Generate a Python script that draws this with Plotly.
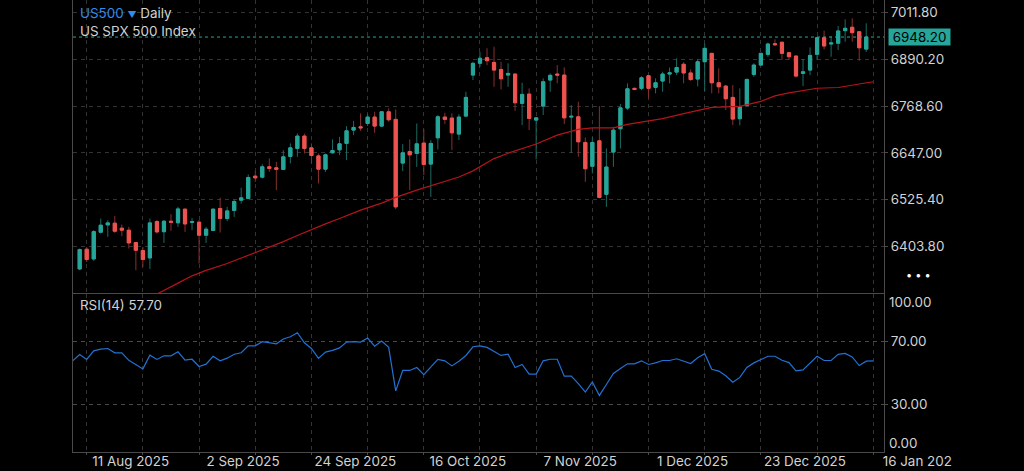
import pandas as pd
import plotly.graph_objects as go

# ---------------- data ----------------
closed_days = ["2025-12-25", "2026-01-01"]
dates = [d.strftime("%Y-%m-%d") for d in pd.bdate_range("2025-08-07", "2026-01-16")
         if d.strftime("%Y-%m-%d") not in closed_days]
candle_dates = dates[1:114]  # 8 Aug 2025 .. 15 Jan 2026

opens = [6344.9, 6396.2, 6371.0, 6440.5, 6459.5, 6464.0, 6450.9, 6445.7, 6413.6, 6392.8,
         6373.6, 6468.3, 6441.8, 6469.0, 6465.0, 6500.4, 6466.0, 6466.5, 6432.7, 6445.0,
         6502.2, 6476.0, 6497.0, 6523.8, 6528.3, 6586.3, 6583.7, 6610.6, 6608.0, 6603.8,
         6637.6, 6658.4, 6690.5, 6660.0, 6639.0, 6604.5, 6647.0, 6654.8, 6671.5, 6706.1,
         6714.7, 6723.5, 6740.0, 6716.5, 6753.8, 6734.0, 6620.2, 6650.6, 6645.4, 6672.3,
         6617.6, 6686.0, 6740.0, 6737.4, 6695.7, 6742.6, 6849.3, 6880.0, 6894.5, 6882.2,
         6864.0, 6849.3, 6851.9, 6775.6, 6799.8, 6732.1, 6768.6, 6836.3, 6851.9, 6849.3,
         6740.0, 6740.7, 6674.0, 6612.0, 6678.3, 6539.0, 6649.0, 6709.5, 6763.4, 6814.7,
         6814.7, 6847.5, 6817.3, 6833.7, 6851.9, 6857.0, 6877.4, 6854.8, 6838.9, 6884.0,
         6905.8, 6829.3, 6820.6, 6791.2, 6735.7, 6770.4, 6851.0, 6875.3, 6903.2, 6930.9,
         6934.7, 6907.5, 6898.8, 6853.6, 6862.3, 6903.2, 6946.5, 6930.1, 6932.2, 6964.8,
         6973.7, 6962.0, 6916.8]
highs = [6398.0, 6402.0, 6445.7, 6476.0, 6471.7, 6482.8, 6460.5, 6454.3, 6414.0, 6402.0,
         6476.0, 6472.0, 6472.0, 6487.4, 6506.4, 6502.0, 6477.6, 6471.7, 6454.3, 6502.0,
         6530.0, 6506.4, 6525.6, 6556.0, 6590.7, 6599.3, 6617.6, 6632.4, 6623.6, 6654.0,
         6671.5, 6697.5, 6697.0, 6671.5, 6645.4, 6645.0, 6681.9, 6688.7, 6716.5, 6730.3,
         6749.6, 6747.8, 6753.8, 6755.0, 6762.6, 6760.0, 6669.6, 6681.9, 6723.5, 6708.7,
         6680.0, 6745.2, 6751.2, 6749.6, 6747.8, 6805.8, 6884.0, 6910.0, 6919.0, 6923.0,
         6884.0, 6879.8, 6853.6, 6829.3, 6814.7, 6740.0, 6840.7, 6853.6, 6875.3, 6869.4,
         6771.0, 6779.8, 6687.0, 6687.8, 6768.6, 6658.4, 6714.7, 6773.8, 6827.7, 6817.0,
         6846.3, 6847.5, 6840.7, 6858.2, 6869.0, 6893.0, 6883.0, 6864.0, 6891.0, 6931.5,
         6907.0, 6866.7, 6824.0, 6823.3, 6814.7, 6840.0, 6879.8, 6907.0, 6933.9, 6942.3,
         6935.5, 6909.5, 6899.6, 6891.0, 6921.3, 6949.2, 6964.8, 6951.0, 6977.0, 6994.3,
         6997.0, 6963.0, 6984.0]
lows = [6342.0, 6363.0, 6365.8, 6437.0, 6428.3, 6438.7, 6430.0, 6398.0, 6341.6, 6350.0,
        6344.9, 6437.0, 6412.6, 6444.0, 6454.3, 6441.3, 6445.7, 6359.0, 6412.6, 6444.0,
        6439.6, 6469.0, 6480.3, 6515.0, 6528.3, 6571.5, 6580.3, 6597.5, 6549.9, 6603.8,
        6619.4, 6636.6, 6645.4, 6619.4, 6567.3, 6597.5, 6645.4, 6641.0, 6628.0, 6693.1,
        6704.3, 6716.5, 6699.0, 6714.0, 6727.7, 6500.4, 6599.3, 6549.9, 6610.6, 6588.9,
        6532.4, 6655.8, 6721.7, 6654.0, 6680.1, 6740.0, 6836.3, 6871.0, 6875.0, 6818.8,
        6812.0, 6818.8, 6756.4, 6719.1, 6706.1, 6629.8, 6745.2, 6805.8, 6827.7, 6721.7,
        6647.0, 6636.6, 6571.5, 6593.3, 6528.3, 6506.4, 6610.6, 6658.4, 6758.2, 6810.0,
        6810.0, 6788.6, 6801.7, 6806.0, 6827.7, 6849.0, 6827.7, 6834.0, 6820.0, 6807.0,
        6801.7, 6801.7, 6758.2, 6719.1, 6719.0, 6767.0, 6845.0, 6874.0, 6897.0, 6926.0,
        6888.4, 6888.4, 6843.0, 6820.6, 6849.3, 6888.4, 6916.0, 6897.0, 6914.4, 6936.0,
        6936.0, 6886.6, 6909.5]
closes = [6395.4, 6369.4, 6442.0, 6458.7, 6464.7, 6443.0, 6445.7, 6412.6, 6393.6, 6369.4,
          6464.7, 6441.3, 6469.0, 6466.5, 6501.0, 6462.0, 6468.0, 6432.7, 6448.3, 6500.4,
          6476.0, 6495.9, 6520.4, 6529.8, 6582.9, 6581.9, 6610.6, 6606.4, 6604.0, 6636.6,
          6660.0, 6690.5, 6658.4, 6640.0, 6604.5, 6641.8, 6653.0, 6670.4, 6704.3, 6713.1,
          6712.0, 6740.0, 6716.5, 6753.8, 6733.0, 6506.4, 6647.0, 6641.8, 6670.4, 6616.8,
          6671.5, 6740.7, 6734.0, 6699.0, 6740.0, 6791.2, 6879.8, 6893.0, 6886.7, 6862.3,
          6839.7, 6853.6, 6777.2, 6799.0, 6736.6, 6738.0, 6831.9, 6848.5, 6849.3, 6738.0,
          6742.0, 6675.7, 6605.6, 6674.0, 6531.0, 6610.0, 6706.0, 6764.0, 6813.6, 6812.0,
          6842.3, 6814.7, 6829.3, 6851.9, 6855.3, 6869.0, 6854.8, 6837.6, 6883.9, 6918.8,
          6829.3, 6818.9, 6787.6, 6734.8, 6766.9, 6838.0, 6875.3, 6905.8, 6930.1, 6928.3,
          6905.8, 6897.0, 6846.7, 6857.8, 6900.5, 6946.5, 6925.0, 6932.7, 6964.0, 6971.0,
          6959.7, 6920.3, 6948.2]

# RSI(14), one value per date (7 Aug 2025 .. 16 Jan 2026)
rsi = [57.7, 61.7, 58.6, 64.0, 65.1, 65.5, 62.8, 62.8, 58.0, 55.4,
       52.6, 61.3, 58.6, 60.9, 60.9, 63.4, 58.1, 58.7, 54.1, 55.6,
       60.6, 57.7, 59.4, 61.9, 62.8, 67.2, 67.2, 69.8, 69.1, 68.5,
       71.5, 72.9, 75.5, 69.1, 65.5, 59.2, 63.2, 64.3, 65.9, 69.6,
       69.8, 69.6, 72.1, 67.0, 70.2, 66.2, 38.7, 51.6, 51.6, 53.5,
       49.0, 53.7, 58.6, 57.7, 54.5, 57.5, 61.1, 66.6, 67.2, 66.2,
       63.4, 61.1, 61.9, 53.5, 55.4, 49.3, 49.3, 57.7, 58.7, 58.7,
       48.0, 48.0, 43.3, 37.9, 44.3, 35.8, 42.7, 49.7, 52.9, 55.8,
       55.8, 57.7, 55.4, 56.4, 57.9, 57.9, 59.0, 57.5, 56.0, 59.6,
       62.2, 52.4, 51.2, 48.2, 44.2, 47.2, 53.5, 56.4, 58.7, 60.6,
       60.6, 58.1, 56.6, 51.4, 52.0, 56.0, 60.6, 57.9, 57.9, 61.8,
       62.4, 60.2, 54.7, 57.5, 57.7]

# moving average (red line)
ma_dates = ["2025-08-22", "2025-08-26", "2025-08-28", "2025-09-01", "2025-09-03",
            "2025-09-08", "2025-09-10", "2025-09-12", "2025-09-16", "2025-09-18",
            "2025-09-22", "2025-09-24", "2025-09-26", "2025-09-30", "2025-10-03",
            "2025-10-08", "2025-10-10", "2025-10-15", "2025-10-20", "2025-10-23",
            "2025-10-27", "2025-10-28", "2025-10-30", "2025-11-03", "2025-11-05",
            "2025-11-07", "2025-11-12", "2025-11-17", "2025-11-19", "2025-11-24",
            "2025-11-26", "2025-12-01", "2025-12-03", "2025-12-08", "2025-12-10",
            "2025-12-12", "2025-12-18", "2025-12-23", "2025-12-26", "2025-12-30",
            "2026-01-06", "2026-01-09", "2026-01-14", "2026-01-16"]
ma_values = [6270, 6288, 6308, 6327, 6341,
             6359, 6373, 6386, 6401, 6416,
             6432, 6448, 6462, 6476, 6498,
             6516, 6531, 6550, 6568, 6584,
             6600, 6610, 6632, 6646, 6659,
             6670, 6693, 6708, 6712, 6712,
             6721, 6730, 6736, 6749, 6758,
             6765, 6768, 6781, 6795, 6803,
             6815, 6817, 6826, 6832]

price_ticks = [6403.8, 6525.4, 6647.0, 6768.6, 6890.2, 7011.8]
rsi_ticks = [30, 70]
grid_dates = dates[2::8]
date_labels = ["11 Aug 2025", "", "2 Sep 2025", "", "24 Sep 2025", "", "16 Oct 2025", "",
               "7 Nov 2025", "", "1 Dec 2025", "", "23 Dec 2025", "", "16 Jan 202"]
last_price = 6948.2
rsi_last = 57.70

# ---------------- styles ----------------
UP, DN = "#26a69a", "#ef5350"
UP_WICK, DN_WICK = "#1c6a62", "#88302e"
MA_C, RSI_C = "#b5141b", "#2271d3"
TXT, GRID, AXC = "#d2d2d2", "#333333", "#4a4a4a"
FONT = "Inter, Roboto, sans-serif"
FS = 13.4
H_PLOT = 452.0

body_hi = [max(o, c) for o, c in zip(opens, closes)]
body_lo = [min(o, c) for o, c in zip(opens, closes)]

fig = go.Figure()
fig.add_trace(go.Candlestick(
    x=candle_dates, open=opens, high=highs, low=lows, close=closes,
    increasing=dict(line=dict(color=UP_WICK, width=1), fillcolor=UP_WICK),
    decreasing=dict(line=dict(color=DN_WICK, width=1), fillcolor=DN_WICK),
    xaxis="x", yaxis="y", hoverinfo="skip", name="wicks"))
fig.add_trace(go.Candlestick(
    x=candle_dates, open=opens, high=body_hi, low=body_lo, close=closes,
    increasing=dict(line=dict(color=UP, width=1), fillcolor=UP),
    decreasing=dict(line=dict(color=DN, width=1), fillcolor=DN),
    xaxis="x", yaxis="y", name="US500"))
fig.add_trace(go.Scatter(x=ma_dates, y=ma_values, mode="lines",
                         line=dict(color=MA_C, width=1.2), xaxis="x", yaxis="y", name="MA"))
fig.add_trace(go.Scatter(x=dates, y=rsi, mode="lines",
                         line=dict(color=RSI_C, width=1.2), xaxis="x2", yaxis="y2", name="RSI(14)"))

xr = [0.049, 115.53]
common_x = dict(type="category", categoryorder="array", categoryarray=dates, range=xr,
                tickvals=grid_dates, showgrid=True, gridcolor=GRID, gridwidth=1,
                griddash="4px,4px", zeroline=False, showline=True, linecolor=AXC, linewidth=1,
                automargin=False)

fig.update_layout(
    width=1024, height=471,
    margin=dict(l=73, r=140, t=0, b=19, pad=0, autoexpand=False),
    paper_bgcolor="#000000", plot_bgcolor="#000000",
    showlegend=False, boxmode="overlay", boxgap=0.35,
    font=dict(family=FONT, size=FS, color=TXT),
    xaxis=dict(domain=[0, 1], anchor="y", showticklabels=False, ticks="",
               rangeslider=dict(visible=False), **common_x),
    xaxis2=dict(domain=[0, 1], anchor="y2", matches="x", ticktext=date_labels,
                ticks="outside", ticklen=2, tickcolor=AXC, mirror=True,
                ticklabelshift=44, ticklabelstandoff=-5,
                tickfont=dict(family=FONT, size=FS, color=TXT),
                **common_x),
    yaxis=dict(domain=[1 - 293 / H_PLOT, 1], anchor="x", side="right",
               range=[6282.3, 7044.6], tickvals=price_ticks, tickformat=".2f",
               showgrid=True, gridcolor=GRID, griddash="4px,4px", zeroline=False,
               showline=True, mirror=True, linecolor=AXC, ticks="outside", ticklen=3,
               tickcolor=AXC, automargin=False,
               tickfont=dict(family=FONT, size=FS, color=TXT)),
    yaxis2=dict(domain=[0, 1 - 294 / H_PLOT], anchor="x2", side="right",
                range=[0, 100], tickvals=rsi_ticks, tickformat=".2f",
                showgrid=True, gridcolor="#4a4a4a", griddash="4px,4px", zeroline=False,
                showline=True, mirror=True, linecolor=AXC, ticks="outside", ticklen=3,
                tickcolor=AXC, automargin=False,
                tickfont=dict(family=FONT, size=FS, color=TXT)),
)

# last price dotted line and label
fig.add_shape(type="line", xref="x domain", yref="y", x0=0, x1=1, y0=last_price, y1=last_price,
              line=dict(color=UP, width=1, dash="dot"))
fig.add_annotation(x=1, xref="paper", xanchor="left", xshift=4, y=last_price, yref="y",
                   yanchor="middle", text=f"{last_price:.2f}", showarrow=False,
                   bgcolor=UP, borderpad=1, width=59, height=14,
                   font=dict(family=FONT, size=FS, color="#000000"))

def px_y(p):
    return 1 - p / H_PLOT

fig.add_annotation(x=(78 - 73) / 811, xref="paper", xanchor="left", y=px_y(13.3), yref="paper",
                   yanchor="middle", showarrow=False,
                   text='<span style="color:#2f8cf0">US500</span> <span style="color:#2f8cf0;font-size:9px">▼</span> Daily',
                   font=dict(family=FONT, size=FS, color=TXT))
fig.add_annotation(x=(78 - 73) / 811, xref="paper", xanchor="left", y=px_y(30.7), yref="paper",
                   yanchor="middle", showarrow=False, text="US SPX 500 Index",
                   font=dict(family=FONT, size=FS, color=TXT))
fig.add_annotation(x=(78 - 73) / 811, xref="paper", xanchor="left", y=px_y(305), yref="paper",
                   yanchor="middle", showarrow=False, text=f"RSI(14) {rsi_last:.2f}",
                   font=dict(family=FONT, size=FS, color=TXT))
fig.add_annotation(x=1, xref="paper", xanchor="left", xshift=3, y=px_y(302), yref="paper",
                   yanchor="middle", showarrow=False, text="100.00",
                   font=dict(family=FONT, size=FS, color=TXT))
fig.add_annotation(x=1, xref="paper", xanchor="left", xshift=3, y=px_y(443.3), yref="paper",
                   yanchor="middle", showarrow=False, text="0.00",
                   font=dict(family=FONT, size=FS, color=TXT))
fig.add_annotation(x=(918 - 73) / 811, xref="paper", xanchor="center", y=px_y(275), yref="paper",
                   yanchor="middle", showarrow=False, text="• • •",
                   font=dict(family=FONT, size=11, color="#ffffff"))

fig.write_html("out.html")
